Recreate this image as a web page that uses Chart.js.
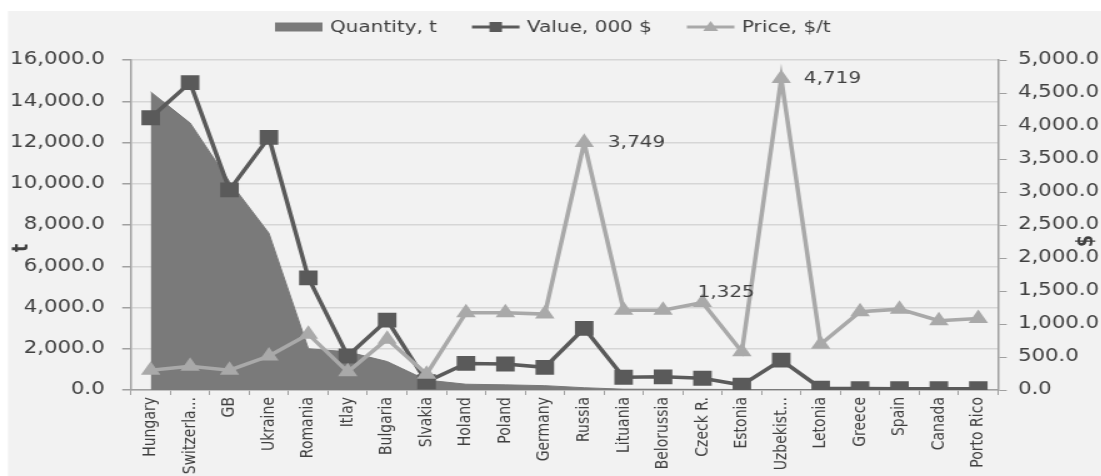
<!DOCTYPE html>
<html>
<head>
<meta charset="utf-8">
<script src="https://cdn.jsdelivr.net/npm/chart.js@4.4.0/dist/chart.umd.min.js"></script>
<style>
  html, body { margin: 0; background: #fff; overflow: hidden; }
  /* the original picture is stretched sideways, so the canvas is too */
  #wrap { width: 881px; height: 476px; transform: scaleX(1.25); transform-origin: 0 0; }
</style>
</head>
<body>
<div id="wrap"><canvas id="exportChart" width="881" height="476"></canvas></div>
<script>
const countries = ['Hungary', 'Switzerla...', 'GB', 'Ukraine', 'Romania', 'Itlay', 'Bulgaria', 'Slvakia',
    'Holand', 'Poland', 'Germany', 'Russia', 'Lituania', 'Belorussia', 'Czeck R.', 'Estonia',
    'Uzbekist...', 'Letonia', 'Greece', 'Spain', 'Canada', 'Porto Rico'];
const quantity = [14450, 12950, 10100, 7600, 2000, 1850, 1380, 480, 280, 250, 210, 110,
    40, 35, 30, 25, 20, 10, 8, 5, 5, 5];
const value = [13200, 14900, 9700, 12250, 5440, 1650, 3390, 400, 1290, 1260, 1100, 2990,
    620, 640, 570, 240, 1450, 90, 70, 60, 60, 60];
const price = [300, 360, 300, 515, 845, 275, 770, 240, 1170, 1170, 1150, 3749,
    1210, 1210, 1325, 580, 4719, 695, 1185, 1225, 1050, 1085];
const labelledPrices = [11, 14, 16];
const leftTicks = [0, 2000, 4000, 6000, 8000, 10000, 12000, 14000, 16000];
const rightTicks = [0, 500, 1000, 1500, 2000, 2500, 3000, 3500, 4000, 4500, 5000];

(() => {
    'use strict';

    const STRETCH = 1.25;
    const text = '#404040';
    const axisLine = '#a0a0a0';
    const areaGray = '#7a7a7a';
    const valueGray = '#5a5a5a';
    const priceGray = '#a9a9a9';

    Chart.defaults.font.family = "'DejaVu Sans', Verdana, sans-serif";
    Chart.defaults.font.size = 17;
    Chart.defaults.color = text;

    const fmt1 = v => Number(v).toLocaleString('en-US', { minimumFractionDigits: 1, maximumFractionDigits: 1 });
    const step = ticks => ticks[1] - ticks[0];

    const legendItems = [
        { label: 'Quantity, t', kind: 'area', color: areaGray },
        { label: 'Value, 000 $', kind: 'rect', color: valueGray },
        { label: 'Price, $/t', kind: 'triangle', color: priceGray }
    ];
    // offsets of the three price labels from their points
    const labelSpots = { 11: [19, 0], 14: [-4, -10], 16: [18, 0] };

    const decor = {
        id: 'decor',
        beforeDraw(chart) {
            const { ctx, width, height } = chart;
            ctx.save();
            ctx.fillStyle = '#ffffff';
            ctx.fillRect(0, 0, width, height);
            ctx.fillStyle = '#f2f2f2';
            ctx.fillRect(8 / STRETCH, 11, width, height);
            ctx.restore();
        },
        afterDatasetsDraw(chart) {
            const { ctx } = chart;
            const points = chart.getDatasetMeta(2).data;
            ctx.save();
            ctx.font = "16px 'DejaVu Sans'";
            ctx.fillStyle = text;
            ctx.textAlign = 'left';
            ctx.textBaseline = 'middle';
            labelledPrices.forEach(i => {
                const [dx, dy] = labelSpots[i] || [18, 0];
                ctx.fillText(price[i].toLocaleString('en-US'), points[i].x + dx, points[i].y + dy);
            });
            ctx.restore();
        },
        afterDraw(chart) {
            const { ctx } = chart;
            ctx.save();
            ctx.font = "16px 'DejaVu Sans'";
            ctx.textBaseline = 'middle';
            let x = 220;
            const y = 27;
            legendItems.forEach(item => {
                ctx.fillStyle = item.color;
                ctx.strokeStyle = item.color;
                if (item.kind === 'area') {
                    ctx.fillRect(x, y - 4.5, 38, 9);
                } else {
                    ctx.lineWidth = 3;
                    ctx.beginPath();
                    ctx.moveTo(x, y);
                    ctx.lineTo(x + 38, y);
                    ctx.stroke();
                    const cx = x + 19;
                    if (item.kind === 'rect') {
                        ctx.fillRect(cx - 5, y - 5, 10, 10);
                    } else {
                        ctx.beginPath();
                        ctx.moveTo(cx, y - 6);
                        ctx.lineTo(cx + 6, y + 4);
                        ctx.lineTo(cx - 6, y + 4);
                        ctx.closePath();
                        ctx.fill();
                    }
                }
                ctx.fillStyle = text;
                ctx.fillText(item.label, x + 44, y + 1);
                x += 44 + ctx.measureText(item.label).width + 28;
            });

            ctx.font = "bold 17px 'DejaVu Sans'";
            ctx.textAlign = 'center';
            [['t', 18, 248], ['$', 870, 241]].forEach(([t, tx, ty]) => {
                ctx.save();
                ctx.translate(tx, ty);
                ctx.rotate(-Math.PI / 2);
                ctx.fillText(t, 0, 0);
                ctx.restore();
            });
            ctx.restore();
        }
    };

    new Chart(document.getElementById('exportChart'), {
        type: 'line',
        data: {
            labels: countries,
            datasets: [
                { label: 'Quantity, t', data: quantity, yAxisID: 'y', fill: 'origin', order: 3,
                  backgroundColor: areaGray, borderColor: areaGray, borderWidth: 1, pointRadius: 0 },
                { label: 'Value, 000 $', data: value, yAxisID: 'y', order: 2,
                  borderColor: valueGray, backgroundColor: valueGray, borderWidth: 3.5,
                  pointStyle: 'rect', pointRadius: 10.5, pointBorderWidth: 0 },
                { label: 'Price, $/t', data: price, yAxisID: 'y1', order: 1,
                  borderColor: priceGray, backgroundColor: priceGray, borderWidth: 3.5,
                  pointStyle: 'triangle', pointRadius: 9, pointBorderWidth: 0 }
            ]
        },
        options: {
            responsive: false,
            animation: false,
            devicePixelRatio: 1,
            layout: { padding: { top: 60, left: 0, right: 0, bottom: 0 } },
            plugins: { legend: { display: false }, tooltip: { enabled: false } },
            scales: {
                x: {
                    offset: true,
                    grid: { offset: true, drawOnChartArea: false, tickLength: 5, color: axisLine },
                    border: { color: axisLine, width: 1.5 },
                    ticks: { autoSkip: false, minRotation: 90, maxRotation: 90, padding: 2, font: { size: 14 } },
                    afterFit: s => { s.height = 86; }
                },
                y: {
                    position: 'left',
                    min: leftTicks[0],
                    max: leftTicks[leftTicks.length - 1],
                    ticks: { stepSize: step(leftTicks), padding: 14, callback: fmt1 },
                    grid: { color: '#d6d6d6', lineWidth: 1.5, tickColor: axisLine, tickLength: 7 },
                    border: { color: axisLine, width: 1.5 },
                    afterFit: s => { s.width = 104.8; }
                },
                y1: {
                    position: 'right',
                    min: rightTicks[0],
                    max: rightTicks[rightTicks.length - 1],
                    ticks: { stepSize: step(rightTicks), padding: 9, callback: fmt1 },
                    grid: { drawOnChartArea: false, tickColor: axisLine, tickLength: 7 },
                    border: { color: axisLine, width: 1.5 },
                    afterFit: s => { s.width = 82.6; }
                }
            }
        },
        plugins: [decor]
    });
})();
</script>
</body>
</html>
